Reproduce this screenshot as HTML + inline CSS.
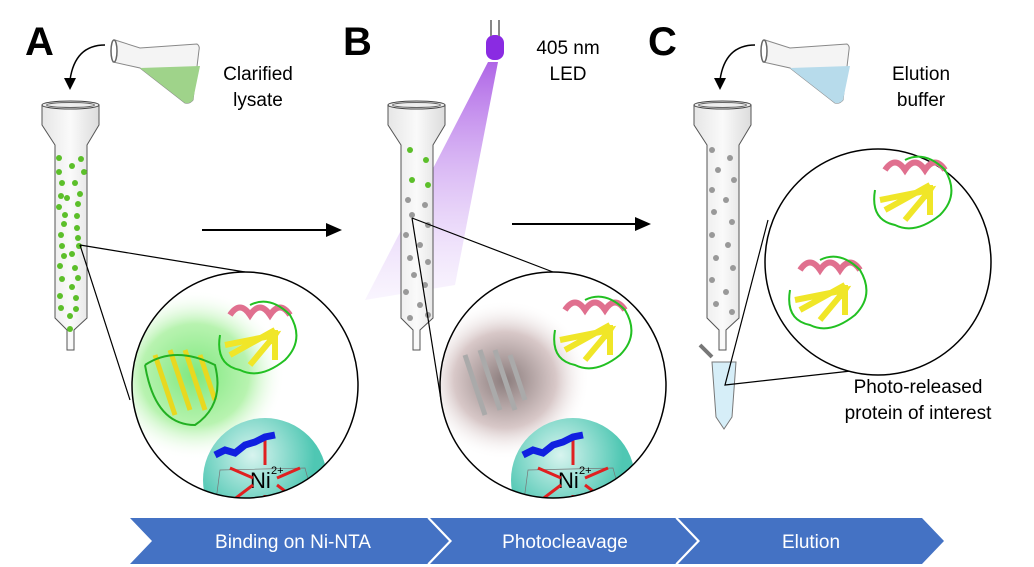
<!DOCTYPE html><html><head><meta charset="utf-8"><style>body{margin:0;background:#fff}svg{display:block}text{font-family:"Liberation Sans",sans-serif}</style></head><body>
<svg width="1034" height="567" viewBox="0 0 1034 567" xmlns="http://www.w3.org/2000/svg">
<defs>
<radialGradient id="gg"><stop offset="0" stop-color="#7fe87f"/><stop offset=".6" stop-color="#b8f3b0"/><stop offset="1" stop-color="#fff" stop-opacity="0"/></radialGradient>
<radialGradient id="gb"><stop offset="0" stop-color="#8a7c7c"/><stop offset=".6" stop-color="#d8c8c8"/><stop offset="1" stop-color="#fff" stop-opacity="0"/></radialGradient>
<radialGradient id="nigrad" cx=".4" cy=".3"><stop offset="0" stop-color="#d8f4ef"/><stop offset="1" stop-color="#4fc7b3"/></radialGradient>
<linearGradient id="beam" x1="0" y1="0" x2="0" y2="1"><stop offset="0" stop-color="#9b3fe0"/><stop offset="1" stop-color="#e6d4fa" stop-opacity=".3"/></linearGradient>
<clipPath id="cA"><circle cx="245" cy="385" r="113"/></clipPath>
<clipPath id="cB"><circle cx="553" cy="385" r="113"/></clipPath>
<linearGradient id="col" x1="0" x2="1"><stop offset="0" stop-color="#e6e6e6"/><stop offset=".5" stop-color="#fafafa"/><stop offset="1" stop-color="#dcdcdc"/></linearGradient>
<g id="column"><path d="M42 105 L99 105 L99 125 L87 145 L87 318 L74 330 L74 350 L67 350 L67 330 L55 318 L55 145 L42 125 Z" fill="url(#col)" stroke="#555" stroke-width="1"/><ellipse cx="70.5" cy="105" rx="28.5" ry="4" fill="#eee" stroke="#444"/><ellipse cx="70.5" cy="105" rx="24" ry="2.5" fill="none" stroke="#666"/></g>
<g id="prot"><path d="M-30 -20 q10 -15 20 0 q10 -15 20 0 q10 -15 20 0" fill="none" stroke="#e0708f" stroke-width="6"/><path d="M-35 10 l50 -10 l-5 8 M-30 20 l45 -25 M-10 30 l25 -30 M15 25 l0 -30" stroke="#f0e628" stroke-width="6" fill="none"/><path d="M-40 0 q-5 30 20 35 q20 10 45 -10 q20 -20 5 -45 q-20 -20 -40 -10" fill="none" stroke="#22c022" stroke-width="2"/></g>
<g id="nisph"><circle cx="0" cy="0" r="62" fill="url(#nigrad)"/><path d="M-45 -10 L40 -12 L50 25 L-50 28Z" fill="none" stroke="#777" stroke-width=".7"/><text x="-15" y="8" font-size="22">Ni</text><text x="6" y="-6" font-size="11">2+</text><path d="M-45 30 L-12 5 M45 30 L12 5 M-35 -12 L-12 -2 M35 -12 L12 -2 M0 -40 V-15 M0 15 V60" stroke="#e02020" stroke-width="3"/><path d="M-50 -25 l10 -5 l10 3 l10 -8 l10 -3 l10 -5 l10 -2" stroke="#1020e0" stroke-width="7" fill="none"/></g>
<g id="flask"><path d="M115 40 L140 48 L197 44 Q200 46 199 50 L193 100 Q190 104 185 103 L140 68 L113 62 Z" fill="#f4f4f4" stroke="#888"/><path d="M140 68 L200 66 L193 100 Q190 104 185 103 Z" fill="currentColor"/><ellipse cx="114" cy="51" rx="3" ry="11" fill="#fff" stroke="#666" stroke-width="1.5"/></g>
</defs>
<text x="25" y="55" font-size="40" font-weight="bold">A</text>
<text x="343" y="55" font-size="40" font-weight="bold">B</text>
<text x="648" y="55" font-size="40" font-weight="bold">C</text>
<use href="#flask" style="color:#9fd38a"/>
<use href="#flask" x="650" style="color:#b7dbeb"/>
<path d="M105 45 q-30 0 -35 35" fill="none" stroke="#000" stroke-width="1.5"/><path d="M64 78 l6 12 l6 -12z"/>
<path d="M755 45 q-30 0 -35 35" fill="none" stroke="#000" stroke-width="1.5"/><path d="M714 78 l6 12 l6 -12z"/>
<text x="258" y="80" font-size="19" text-anchor="middle">Clarified</text><text x="258" y="106" font-size="19" text-anchor="middle">lysate</text>
<text x="568" y="54" font-size="19" text-anchor="middle">405 nm</text><text x="568" y="80" font-size="19" text-anchor="middle">LED</text>
<text x="921" y="80" font-size="19" text-anchor="middle">Elution</text><text x="921" y="106" font-size="19" text-anchor="middle">buffer</text>
<path d="M488 62 L498 62 L455 285 L365 300 Z" fill="url(#beam)" opacity=".8"/>
<rect x="486" y="35" width="18" height="25" rx="8" fill="#8a2be2"/><path d="M491 20 v16 M499 20 v16" stroke="#888" stroke-width="2"/>
<use href="#column"/>
<use href="#column" x="346"/>
<use href="#column" x="652"/>
<g fill="#5cbf2a">
<circle cx="59" cy="158" r="3"/><circle cx="81" cy="159" r="3"/><circle cx="72" cy="166" r="3"/><circle cx="59" cy="172" r="3"/><circle cx="84" cy="172" r="3"/><circle cx="62" cy="183" r="3"/><circle cx="75" cy="183" r="3"/><circle cx="61" cy="196" r="3"/><circle cx="80" cy="194" r="3"/><circle cx="67" cy="198" r="3"/><circle cx="59" cy="207" r="3"/><circle cx="78" cy="204" r="3"/><circle cx="65" cy="215" r="3"/><circle cx="77" cy="216" r="3"/><circle cx="64" cy="224" r="3"/><circle cx="77" cy="228" r="3"/><circle cx="61" cy="235" r="3"/><circle cx="78" cy="238" r="3"/><circle cx="62" cy="246" r="3"/><circle cx="79" cy="246" r="3"/><circle cx="64" cy="256" r="3"/><circle cx="72" cy="254" r="3"/><circle cx="60" cy="266" r="3"/><circle cx="75" cy="268" r="3"/><circle cx="62" cy="279" r="3"/><circle cx="78" cy="278" r="3"/><circle cx="72" cy="287" r="3"/><circle cx="60" cy="296" r="3"/><circle cx="76" cy="298" r="3"/><circle cx="61" cy="308" r="3"/><circle cx="76" cy="309" r="3"/><circle cx="70" cy="316" r="3"/><circle cx="70" cy="329" r="3"/>
<circle cx="410" cy="150" r="3"/><circle cx="426" cy="160" r="3"/><circle cx="412" cy="180" r="3"/><circle cx="428" cy="185" r="3"/>
</g>
<g fill="#999">
<circle cx="408" cy="200" r="3"/><circle cx="425" cy="205" r="3"/><circle cx="412" cy="215" r="3"/><circle cx="428" cy="225" r="3"/><circle cx="406" cy="235" r="3"/><circle cx="420" cy="245" r="3"/><circle cx="410" cy="258" r="3"/><circle cx="428" cy="262" r="3"/><circle cx="414" cy="275" r="3"/><circle cx="425" cy="285" r="3"/><circle cx="406" cy="292" r="3"/><circle cx="420" cy="305" r="3"/><circle cx="428" cy="315" r="3"/><circle cx="410" cy="318" r="3"/>
<circle cx="712" cy="150" r="3"/><circle cx="730" cy="158" r="3"/><circle cx="718" cy="170" r="3"/><circle cx="734" cy="180" r="3"/><circle cx="712" cy="190" r="3"/><circle cx="726" cy="200" r="3"/><circle cx="714" cy="212" r="3"/><circle cx="732" cy="222" r="3"/><circle cx="712" cy="235" r="3"/><circle cx="728" cy="245" r="3"/><circle cx="716" cy="258" r="3"/><circle cx="733" cy="268" r="3"/><circle cx="712" cy="280" r="3"/><circle cx="726" cy="292" r="3"/><circle cx="716" cy="304" r="3"/><circle cx="732" cy="312" r="3"/>
</g>
<path d="M712 362 h24 l-4 55 l-8 12 l-8 -12z" fill="#d6eef8" stroke="#777"/><path d="M700 345 l12 12" stroke="#777" stroke-width="4"/>
<path d="M202 230 H328" stroke="#000" stroke-width="2"/><path d="M326 223 l16 7 l-16 7z"/>
<path d="M512 224 H637" stroke="#000" stroke-width="2"/><path d="M635 217 l16 7 l-16 7z"/>
<path d="M80 245 L245 272 M80 245 L130 400" stroke="#000" stroke-width="1.2"/>
<path d="M412 218 L553 272 M412 218 L441 400" stroke="#000" stroke-width="1.2"/>
<path d="M768 220 L725 385 L860 370" stroke="#000" stroke-width="1.2" fill="none"/>
<g clip-path="url(#cA)"><circle cx="245" cy="385" r="113" fill="#fff"/><ellipse cx="195" cy="375" rx="90" ry="85" fill="url(#gg)"/><use href="#nisph" x="265" y="480"/><use href="#prot" x="260" y="335"/><g transform="translate(185,385)"><path d="M-30 -30 l20 60 M-15 -35 l20 60 M0 -35 l20 60 M15 -30 l15 45" stroke="#e8d820" stroke-width="5"/><path d="M-40 -20 q30 -20 70 0 q10 40 -20 60 q-40 0 -50 -60" fill="none" stroke="#22b022" stroke-width="2"/></g></g>
<circle cx="245" cy="385" r="113" fill="none" stroke="#000" stroke-width="1.5"/>
<g clip-path="url(#cB)"><circle cx="553" cy="385" r="113" fill="#fff"/><ellipse cx="505" cy="380" rx="85" ry="80" fill="url(#gb)"/><use href="#nisph" x="573" y="480"/><use href="#prot" x="595" y="330"/><g transform="translate(495,385)"><path d="M-30 -30 l20 60 M-15 -35 l20 60 M0 -35 l20 60 M15 -30 l15 45" stroke="#aaa" stroke-width="5"/></g></g>
<circle cx="553" cy="385" r="113" fill="none" stroke="#000" stroke-width="1.5"/>
<circle cx="878" cy="262" r="113" fill="#fff" stroke="#000" stroke-width="1.5"/>
<use href="#prot" x="915" y="190"/><use href="#prot" x="830" y="290"/>
<text x="918" y="393" font-size="19" text-anchor="middle">Photo-released</text><text x="918" y="419" font-size="19" text-anchor="middle">protein of interest</text>
<path d="M130 518 H428 L450 541 L428 564 H130 L152 541 Z" fill="#4472c4"/>
<path d="M430 518 H676 L698 541 L676 564 H430 L452 541 Z" fill="#4472c4"/>
<path d="M678 518 H922 L944 541 L922 564 H678 L700 541 Z" fill="#4472c4"/>
<path d="M428 518 L450 541 L428 564 M676 518 L698 541 L676 564" stroke="#fff" stroke-width="1.5" fill="none"/>
<g fill="#fff" font-size="19" text-anchor="middle"><text x="293" y="548">Binding on Ni-NTA</text><text x="565" y="548">Photocleavage</text><text x="811" y="548">Elution</text></g>
</svg></body></html>
